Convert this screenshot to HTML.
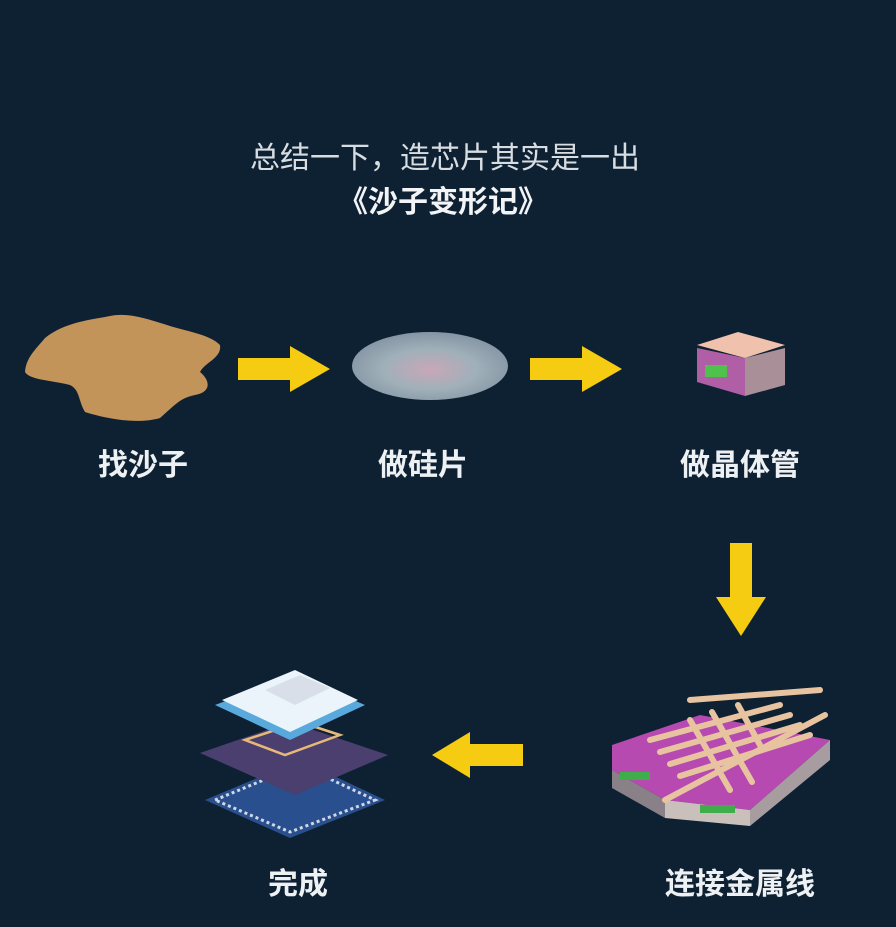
<!DOCTYPE html>
<html><head><meta charset="utf-8"><style>
html,body{margin:0;padding:0;background:#0e2133;}
svg{display:block}
text{font-family:"Liberation Sans","Noto Sans CJK SC",sans-serif;}
</style></head><body>
<svg width="896" height="927" viewBox="0 0 896 927" xmlns="http://www.w3.org/2000/svg">
<defs>
<radialGradient id="wf" cx="0.5" cy="0.55" r="0.6">
<stop offset="0" stop-color="#c9a7b8"/><stop offset="0.5" stop-color="#9fb0b9"/><stop offset="1" stop-color="#7f8fa0"/>
</radialGradient>
</defs>
<rect width="896" height="927" fill="#0e2133"/>
<text x="445" y="168" font-size="30" fill="#d8dde2" text-anchor="middle">总结一下，造芯片其实是一出</text>
<text x="443" y="212" font-size="30" font-weight="bold" fill="#f2f4f6" text-anchor="middle">《沙子变形记》</text>

<!-- sand -->
<path d="M45,338 C65,322 90,320 110,316 C130,312 150,320 170,326 C190,332 210,335 220,345 C222,358 205,362 200,372 C210,380 212,392 195,395 C180,398 175,405 160,418 C140,424 110,420 85,412 C78,400 80,390 70,385 C50,380 30,380 25,372 C26,358 35,350 45,338 Z" fill="#c3945a"/>
<!-- arrows -->
<polygon points="238,358 290,358 290,346 330,369 290,392 290,380 238,380" fill="#f5cc12"/>
<polygon points="530,358 582,358 582,346 622,369 582,392 582,380 530,380" fill="#f5cc12"/>
<polygon points="730,543 752,543 752,597 766,597 741,636 716,597 730,597" fill="#f5cc12"/>
<polygon points="523,744 470,744 470,732 432,755 470,778 470,766 523,766" fill="#f5cc12"/>

<!-- wafer -->
<ellipse cx="430" cy="366" rx="78" ry="34" fill="url(#wf)"/>

<!-- transistor cube -->
<polygon points="697,348 745,358 745,396 697,382" fill="#b05fa6"/>
<polygon points="745,358 785,348 785,385 745,396" fill="#a88f98"/>
<rect x="705" y="365" width="22" height="12" fill="#4fc24c"/>
<polygon points="697,345 738,332 785,345 745,358" fill="#f0c2ae"/>

<!-- chip stack -->
<polygon points="205,800 300,760 385,800 290,838" fill="#2a4f8e"/>
<polygon points="215,800 300,765 375,800 290,832" fill="none" stroke="#cfd8e6" stroke-width="3" stroke-dasharray="3,3"/>
<polygon points="200,753 290,722 388,755 295,795" fill="#4a3f6e"/>
<polygon points="245,740 300,722 340,735 285,755" fill="none" stroke="#e6b97a" stroke-width="2.5"/>
<polygon points="215,705 295,675 365,705 290,740" fill="#5aa9dc"/>
<polygon points="222,700 295,670 358,700 290,732" fill="#eaf4fa"/>
<polygon points="265,690 300,675 330,688 295,705" fill="#d8dfe8"/>

<!-- metal lines -->
<polygon points="612,745 700,715 830,740 750,810 665,800 612,770" fill="#b64ab0"/>
<polygon points="612,770 665,800 665,818 612,788" fill="#8a8088"/>
<polygon points="665,800 750,810 750,826 665,818" fill="#c9c0bc"/>
<polygon points="750,810 830,740 830,760 750,826" fill="#a79ca0"/>
<rect x="620" y="772" width="30" height="8" fill="#3fae4a"/>
<rect x="700" y="805" width="35" height="8" fill="#3fae4a"/>
<g stroke="#e8c3a0" stroke-width="6" stroke-linecap="round">
<line x1="650" y1="740" x2="780" y2="705"/>
<line x1="660" y1="752" x2="790" y2="715"/>
<line x1="670" y1="764" x2="800" y2="725"/>
<line x1="680" y1="776" x2="810" y2="735"/>
<line x1="690" y1="720" x2="730" y2="790"/>
<line x1="712" y1="712" x2="752" y2="782"/>
<line x1="738" y1="705" x2="760" y2="745"/>
<line x1="665" y1="800" x2="825" y2="715"/>
<line x1="690" y1="700" x2="820" y2="690"/>
</g>

<g font-size="30" font-weight="bold" fill="#eef1f4" text-anchor="middle">
<text x="143" y="475">找沙子</text>
<text x="423" y="475">做硅片</text>
<text x="740" y="475">做晶体管</text>
<text x="298" y="894">完成</text>
<text x="740" y="894">连接金属线</text>
</g>
</svg>
</body></html>
